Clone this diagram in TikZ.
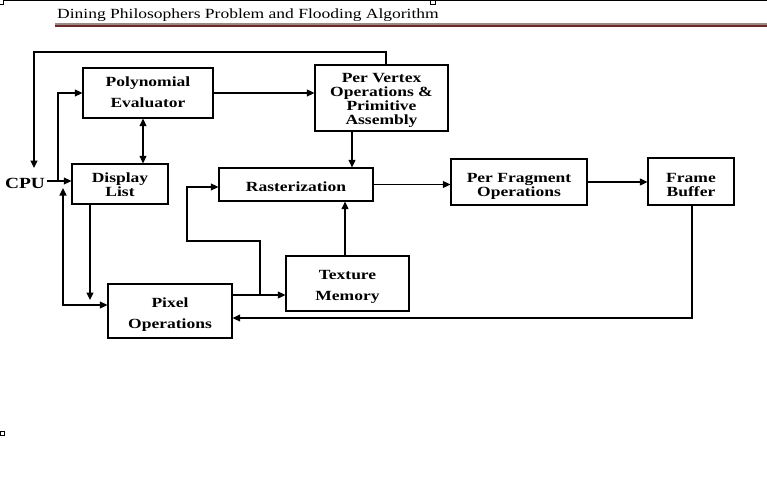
\documentclass[tikz,border=0pt]{standalone}
\usepackage{fontspec}
\setmainfont{Liberation Serif}[FakeStretch=1.25]
\usetikzlibrary{arrows.meta}
\definecolor{hdrmaroon}{HTML}{6E2A2A}
\definecolor{hdrgray}{HTML}{9A8C84}
\begin{document}
\begin{tikzpicture}[x=1pt,y=-1pt,
  box/.style={draw, line width=1.3pt, inner sep=0pt},
  txt/.style={inner sep=0pt, align=center, font=\fontsize{14}{14}\selectfont\bfseries},
  conn/.style={line width=1.3pt},
  tip/.tip={Triangle[length=7.5pt,width=7pt]},
  arr/.style={conn, -tip},
  darr/.style={conn, tip-tip}]
\useasboundingbox (0,0) rectangle (767,497);
% page artefacts
\draw[line width=0.8pt] (0,4) -- (3.5,4) -- (3.5,0);
\draw[line width=0.8pt] (3.5,0.4) -- (767,0.4);
\draw[line width=0.8pt, fill=white] (430.5,0.4) rectangle (435,4.5);
\draw[line width=0.8pt] (0.4,431) rectangle (4.5,435.5);
% header
\node[anchor=base west, inner sep=0pt, font=\fontsize{14}{14}\selectfont] (hdr) at (57,18.5)
  {Dining Philosophers Problem and Flooding Algorithm};
\fill[hdrgray] (55,23) rectangle (767,25);
\fill[hdrmaroon] (55,25) rectangle (767,27.5);
% boxes
\node[box, minimum width=130pt, minimum height=50pt,
  label={[txt,yshift=1pt]center:{Polynomial\\[7pt]Evaluator}}] (poly) at (148,93) {};
\node[box, minimum width=133pt, minimum height=66pt,
  label={[txt,yshift=-2pt]center:{Per Vertex\\Operations \&\\Primitive\\Assembly}}] (pv) at (381.5,98) {};
\node[box, minimum width=96pt, minimum height=40pt,
  label={[txt,yshift=-1pt]center:{Display\\List}}] (dl) at (120,184) {};
\node[box, minimum width=154pt, minimum height=33pt,
  label={[txt,yshift=-2.5pt]center:{Rasterization}}] (ras) at (296,184.5) {};
\node[box, minimum width=136pt, minimum height=46pt,
  label={[txt,yshift=-4pt]center:{Per Fragment\\Operations}}] (pf) at (519,182) {};
\node[box, minimum width=86pt, minimum height=47pt,
  label={[txt,yshift=-3.5pt]center:{Frame\\Buffer}}] (fb) at (691,181.5) {};
\node[box, minimum width=123pt, minimum height=55pt,
  label={[txt,yshift=-3pt]center:{Texture\\[7pt]Memory}}] (tm) at (347.5,283.5) {};
\node[box, minimum width=124pt, minimum height=54pt,
  label={[txt,yshift=-3.5pt]center:{Pixel\\[7pt]Operations}}] (px) at (170,311) {};
\node[inner sep=0pt, font=\fontsize{15.5}{15.5}\selectfont\bfseries] (cpu) at (25,183) {CPU};
% helper coordinates
\coordinate (loopR) at (386,52);
\coordinate (loopL) at (34,52);
\coordinate (cpuin) at (34,168);
\coordinate (cpuout) at (47,181);
\coordinate (br1) at (58,181);
\coordinate (pd) at (143,0);
\coordinate (pr) at (352,0);
\coordinate (fbd) at (692,318);
\coordinate (pt) at (260,295);
\coordinate (bk1) at (260,241);
\coordinate (bk2) at (187,241);
\coordinate (bk3) at (187,187);
\coordinate (tr) at (345,0);
\coordinate (dld) at (90,300);
\coordinate (dup) at (63,188);
\coordinate (dlow) at (63,305);
% connectors
\draw[arr] (pv.north -| loopR) -- (loopR) -- (loopL) -- (cpuin);
\draw[arr] (cpuout) -- (cpuout -| dl.west);
\draw[arr] (br1) |- (poly.west);
\draw[darr] (poly.south -| pd) -- (dl.north -| pd);
\draw[arr] (poly.east) -- (poly.east -| pv.west);
\draw[arr] (pv.south -| pr) -- (ras.north -| pr);
\draw[arr] (ras.east) -- (ras.east -| pf.west);
\draw[arr] (pf.east) -- (pf.east -| fb.west);
\draw[arr] (fb.south -| fbd) -- (fbd) -- (fbd -| px.east);
\draw[arr] (px.east |- pt) -- (pt -| tm.west);
\draw[arr] (pt) -- (bk1) -- (bk2) -- (bk3) -- (bk3 -| ras.west);
\draw[arr] (tm.north -| tr) -- (ras.south -| tr);
\draw[arr] (dl.south -| dld) -- (dld);
\draw[darr] (dup) -- (dlow) -- (dlow -| px.west);
\end{tikzpicture}
\end{document}
